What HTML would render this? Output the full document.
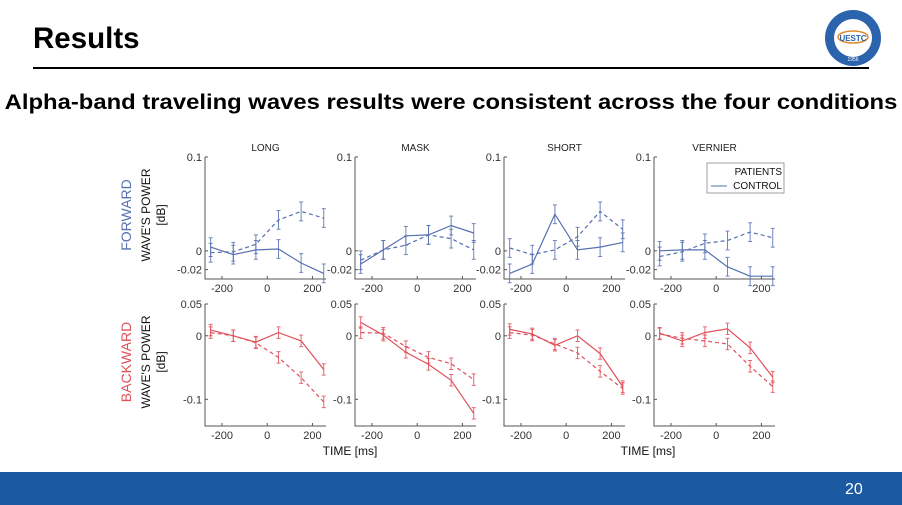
<!DOCTYPE html>
<html><head><meta charset="utf-8"><style>
body{margin:0;width:902px;height:505px;overflow:hidden;background:#fff;font-family:"Liberation Sans",sans-serif;position:relative}
#title{position:absolute;left:33px;top:22px;font-size:29.5px;font-weight:bold;color:#000}
#rule{position:absolute;left:33px;top:67px;width:836px;height:2px;background:#000}
#sub{position:absolute;left:0;width:902px;top:91px;text-align:center;font-size:21px;font-weight:bold;white-space:nowrap;transform:scaleX(1.135);transform-origin:451px 0}
#footer{position:absolute;left:0;top:472px;width:902px;height:33px;background:#1b5aa0}
#pnum{position:absolute;left:845px;top:481px;color:#fff;font-size:16px}
svg{position:absolute;left:0;top:0}
</style></head><body>
<div id="title">Results</div>
<div id="rule"></div>
<div id="sub">Alpha-band traveling waves results were consistent across the four conditions</div>
<div id="footer"></div>
<div id="pnum">20</div>
<svg id="chart" width="902" height="505"></svg>
<script>
const conditions=["LONG","MASK","SHORT","VERNIER"];
const times=[-250,-150,-50,50,150,250];
const xTicks=[-200,0,200];
const fwdControl=[[0.004,-0.004,0.001,0.002,-0.013,-0.024],[-0.014,0.001,0.016,0.017,0.027,0.019],[-0.024,-0.014,0.039,0.001,0.004,0.009],[0,0.001,0.001,-0.017,-0.027,-0.027]];
const fwdPatients=[[-0.002,-0.001,0.007,0.033,0.042,0.035],[-0.01,0.001,0.006,0.017,0.013,0.001],[0.003,-0.004,0.001,0.015,0.042,0.023],[-0.006,-0.001,0.008,0.011,0.02,0.014]];
const bwdControl=[[0.009,0,-0.01,0.005,-0.008,-0.053],[0.021,0.001,-0.026,-0.045,-0.07,-0.122],[0.01,0.003,-0.015,0,-0.028,-0.08],[0.004,-0.008,0.005,0.011,-0.019,-0.065]];
const bwdPatients=[[0.005,0,-0.011,-0.034,-0.066,-0.104],[0.005,0.004,-0.017,-0.034,-0.044,-0.069],[0.005,0.001,-0.013,-0.027,-0.056,-0.083],[0.003,-0.004,-0.008,-0.013,-0.048,-0.08]];
const errFwd=0.01, errBwd=0.009;
const fwdTicks=[[0.1,"0.1"],[0,"0"],[-0.02,"-0.02"]];
const bwdTicks=[[0.05,"0.05"],[0,"0"],[-0.1,"-0.1"]];

const svg=document.getElementById('chart');
const NS="http://www.w3.org/2000/svg";
function mk(tag,attrs,parent){const e=document.createElementNS(NS,tag);for(const k in attrs)e.setAttribute(k,attrs[k]);(parent||svg).appendChild(e);return e;}
function txt(s,attrs,parent){const e=mk('text',attrs,parent);e.textContent=s;return e;}
const panelLefts=[205,355,504,654], W=121;
const xmin=-275,xmax=260;
function xs(i,t){return panelLefts[i]+(t-xmin)/(xmax-xmin)*W;}
const rows=[{top:157,bot:279,ymin:-0.03,ymax:0.1,ctrl:fwdControl,pat:fwdPatients,err:errFwd,ticks:fwdTicks,col:"#5670b0"},
{top:304,bot:426,ymin:-0.142,ymax:0.05,ctrl:bwdControl,pat:bwdPatients,err:errBwd,ticks:bwdTicks,col:"#e0505a"}];
rows.forEach((r,ri)=>{
  const ys=v=>r.bot-(v-r.ymin)/(r.ymax-r.ymin)*(r.bot-r.top);
  conditions.forEach((c,i)=>{
    const g=mk('g',{});
    
    
    const L=panelLefts[i];
    mk('path',{d:`M${L} ${r.top}V${r.bot}H${L+W}`,stroke:"#555",fill:"none","stroke-width":1},g);
    r.ticks.forEach(([v,l])=>{mk('line',{x1:L,x2:L+3,y1:ys(v),y2:ys(v),stroke:"#555"},g);
      txt(l,{x:L-3,y:ys(v)+4,"text-anchor":"end","font-size":11,fill:"#333"},g);});
    xTicks.forEach(t=>{mk('line',{x1:xs(i,t),x2:xs(i,t),y1:r.bot,y2:r.bot-3,stroke:"#555"},g);
      txt(String(t),{x:xs(i,t),y:r.bot+13,"text-anchor":"middle","font-size":11,fill:"#333"},g);});
    if(ri===0) txt(c,{x:L+W/2,y:151,"text-anchor":"middle","font-size":10,fill:"#222"},g);
    [[r.ctrl[i],null,'control'],[r.pat[i],"4,3",'patients']].forEach(([vals,dash,nm])=>{
      const d=vals.map((v,k)=>(k?'L':'M')+xs(i,times[k]).toFixed(1)+' '+ys(v).toFixed(1)).join('');
      const p=mk('path',{d:d,stroke:r.col,fill:"none","stroke-width":1.2},g);
      if(dash)p.setAttribute('stroke-dasharray',dash);
      
      
      vals.forEach((v,k)=>{const x=xs(i,times[k]);
        mk('path',{d:`M${x} ${ys(v+r.err)}V${ys(v-r.err)}M${x-2} ${ys(v+r.err)}h4M${x-2} ${ys(v-r.err)}h4`,stroke:r.col,"stroke-width":1,fill:"none",opacity:0.85},g);});
    });
  });
});
[[215,"FORWARD","#5670b0"],[362,"BACKWARD","#e0505a"]].forEach(([cy,l,col])=>{
  const t=txt(l,{x:0,y:0,transform:`translate(131 ${cy}) rotate(-90)`,"text-anchor":"middle","font-size":14,fill:col});
  
  
  txt("WAVE'S POWER",{transform:`translate(150 ${cy}) rotate(-90)`,"text-anchor":"middle","font-size":12,fill:"#111"});
  txt("[dB]",{transform:`translate(165 ${cy}) rotate(-90)`,"text-anchor":"middle","font-size":12,fill:"#111"});
});
[350,648].forEach(x=>{const t=txt("TIME [ms]",{x:x,y:455,"text-anchor":"middle","font-size":12,fill:"#111"});
  });
const lg=mk('g',{});


mk('rect',{x:707,y:163,width:77,height:30,fill:"#fff",stroke:"#888","stroke-width":0.8},lg);
txt("PATIENTS",{x:782,y:175,"text-anchor":"end","font-size":10,fill:"#111"},lg);
mk('line',{x1:711,x2:727,y1:186,y2:186,stroke:"#5670b0"},lg);
txt("CONTROL",{x:782,y:189,"text-anchor":"end","font-size":10,fill:"#111"},lg);
const lo=mk('g',{});


mk('circle',{cx:853,cy:38,r:28,fill:"#2b63ad"},lo);
mk('circle',{cx:853,cy:38,r:19,fill:"#fff"},lo);
mk('ellipse',{cx:853,cy:37,rx:15,ry:6,fill:"none",stroke:"#e08a30","stroke-width":1.5},lo);
txt("UESTC",{x:853,y:41,"text-anchor":"middle","font-size":8,"font-weight":"bold",fill:"#2b63ad"},lo);
txt("1956",{x:853,y:61,"text-anchor":"middle","font-size":5,fill:"#fff"},lo);
</script>
</body></html>
